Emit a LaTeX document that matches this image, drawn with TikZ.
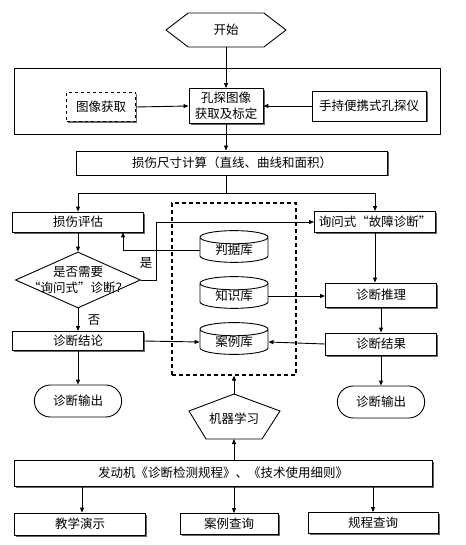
\documentclass[tikz,border=0pt]{standalone}
\usepackage{fontspec}
\newfontfamily\cjk{Noto Sans CJK SC}
\usetikzlibrary{arrows.meta,shapes.geometric,shapes.symbols,shapes.misc,shadows}

\tikzset{
  box/.style={draw, fill=white, inner sep=1pt,
    drop shadow={shadow xshift=1.5pt, shadow yshift=-1.5pt, fill=black!60, opacity=1}},
  db/.style={draw, fill=white, cylinder, shape border rotate=90, aspect=0.35,
    minimum width=68pt, minimum height=25pt, inner sep=0pt},
  term/.style={draw, rounded rectangle, minimum width=94pt, minimum height=32pt},
}

\begin{document}
\begin{tikzpicture}[x=1pt, y=-1pt, line width=0.9pt,
  >={Triangle[length=5pt,width=4pt]},
  font=\cjk\fontsize{12.5}{16}\selectfont]
  \useasboundingbox (0,0) rectangle (465,545);
  % 开始与图像获取
  \node[draw, signal, signal to=west and east, signal pointer angle=75,
    minimum width=120pt, minimum height=34pt] (start) at (226,30) {开始};
  \draw (14,68) rectangle (440,134);
  \node[box, dashed, minimum width=69pt, minimum height=29pt] (acq) at (101,107) {图像获取};
  \node[box, align=center, minimum width=74pt, minimum height=35pt] (proc) at (226,106) {孔探图像\\获取及标定};
  \node[box, minimum width=114pt, minimum height=30pt] (probe) at (369,106) {手持便携式孔探仪};
  \node[box, minimum width=311pt, minimum height=24pt] (calc) at (232,163) {损伤尺寸计算（直线、曲线和面积）};
  \draw[->] (start.south) -- (proc.north);
  \draw[->] (acq.east) -- (proc.west);
  \draw[->] (probe.west) -- (proc.east);
  \draw[->] (proc.south) -- (proc.south |- calc.north);
  % 中间数据库
  \node[draw, dash pattern=on 4pt off 3pt, line width=1.2pt, minimum width=124pt, minimum height=172pt] (libs) at (234,289) {};
  \node[db] (criteria) at (234,250) {判据库};
  \node[db] (knowledge) at (234,296) {知识库};
  \node[db] (case) at (234,342) {案例库};
  % 左侧
  \node[box, minimum width=131pt, minimum height=20pt] (assess) at (78,222) {损伤评估};
  \node[draw, diamond, aspect=2.2, minimum width=125pt, minimum height=56pt, inner sep=0pt] (decide) at (78,280) {};
  \node[align=center, inner sep=0pt] (decidetext) at (decide) {是否需要\\“询问式”诊断？};
  \node[box, minimum width=131pt, minimum height=19pt] (conclude) at (78,341) {诊断结论};
  \node[term] (out1) at (78,401) {诊断输出};
  % 右侧
  \node[box, minimum width=121pt, minimum height=21pt] (inquiry) at (375,222) {询问式“故障诊断”};
  \node[box, minimum width=111pt, minimum height=24pt] (reason) at (381,295) {诊断推理};
  \node[box, minimum width=111pt, minimum height=22pt] (result) at (381,344) {诊断结果};
  \node[term] (out2) at (381,402) {诊断输出};
  \coordinate (split) at (proc.south |- 0,193);
  \draw (proc.south |- calc.south) -- (split);
  \draw[->] (split) -| (assess.north);
  \draw[->] (split) -| (inquiry.north);
  \draw[->] (assess.south) -- (decide.north);
  \draw[->] (decide.east) -- ++(15,0) |- (inquiry.west);
  \node[inner sep=0pt] (yes) at (146,263) {是};
  \draw[->] (criteria.west) -| ([xshift=45pt]assess.south);
  \draw[->] (decide.south) -- node[right=6pt] (no) {否} (conclude.north);
  \draw[->] (conclude.east) -- (case.west);
  \draw[->] (conclude.south) -- (out1.north);
  \draw[->] (knowledge.east) -- (knowledge.east -| reason.west);
  \draw[->] (inquiry.south) -- (inquiry.south |- reason.north);
  \draw[->] (reason.south) -- (result.north);
  \draw[->] (result.west) -- (case.east);
  \draw[->] (result.south) -- (out2.north);
  % 机器学习
  \coordinate (mltop) at (234,394);
  \coordinate (mlbot) at (234,439);
  \draw (mltop) -- (280,411) -- (262,439) -- (206,439) -- (189,411) -- cycle;
  \node (ml) at (234,419) {机器学习};
  \draw[->] (mltop) -- (libs.south);
  % 发动机规程
  \node[box, minimum width=418pt, minimum height=26pt] (engine) at (223,473) {发动机《诊断检测规程》、《技术使用细则》};
  \draw[->] (engine.north -| mlbot) -- (mlbot);
  \node[box, minimum width=131pt, minimum height=22pt] (teach) at (80,524) {教学演示};
  \node[box, minimum width=98pt, minimum height=21pt] (caseq) at (229,524) {案例查询};
  \node[box, minimum width=130pt, minimum height=21pt] (rule) at (373,523) {规程查询};
  \draw[->] (engine.south -| 82,0) -- (teach.north -| 82,0);
  \draw[->] (engine.south -| mlbot) -- (caseq.north -| mlbot);
  \draw[->] (engine.south -| rule.north) -- (rule.north);
\end{tikzpicture}
\end{document}
